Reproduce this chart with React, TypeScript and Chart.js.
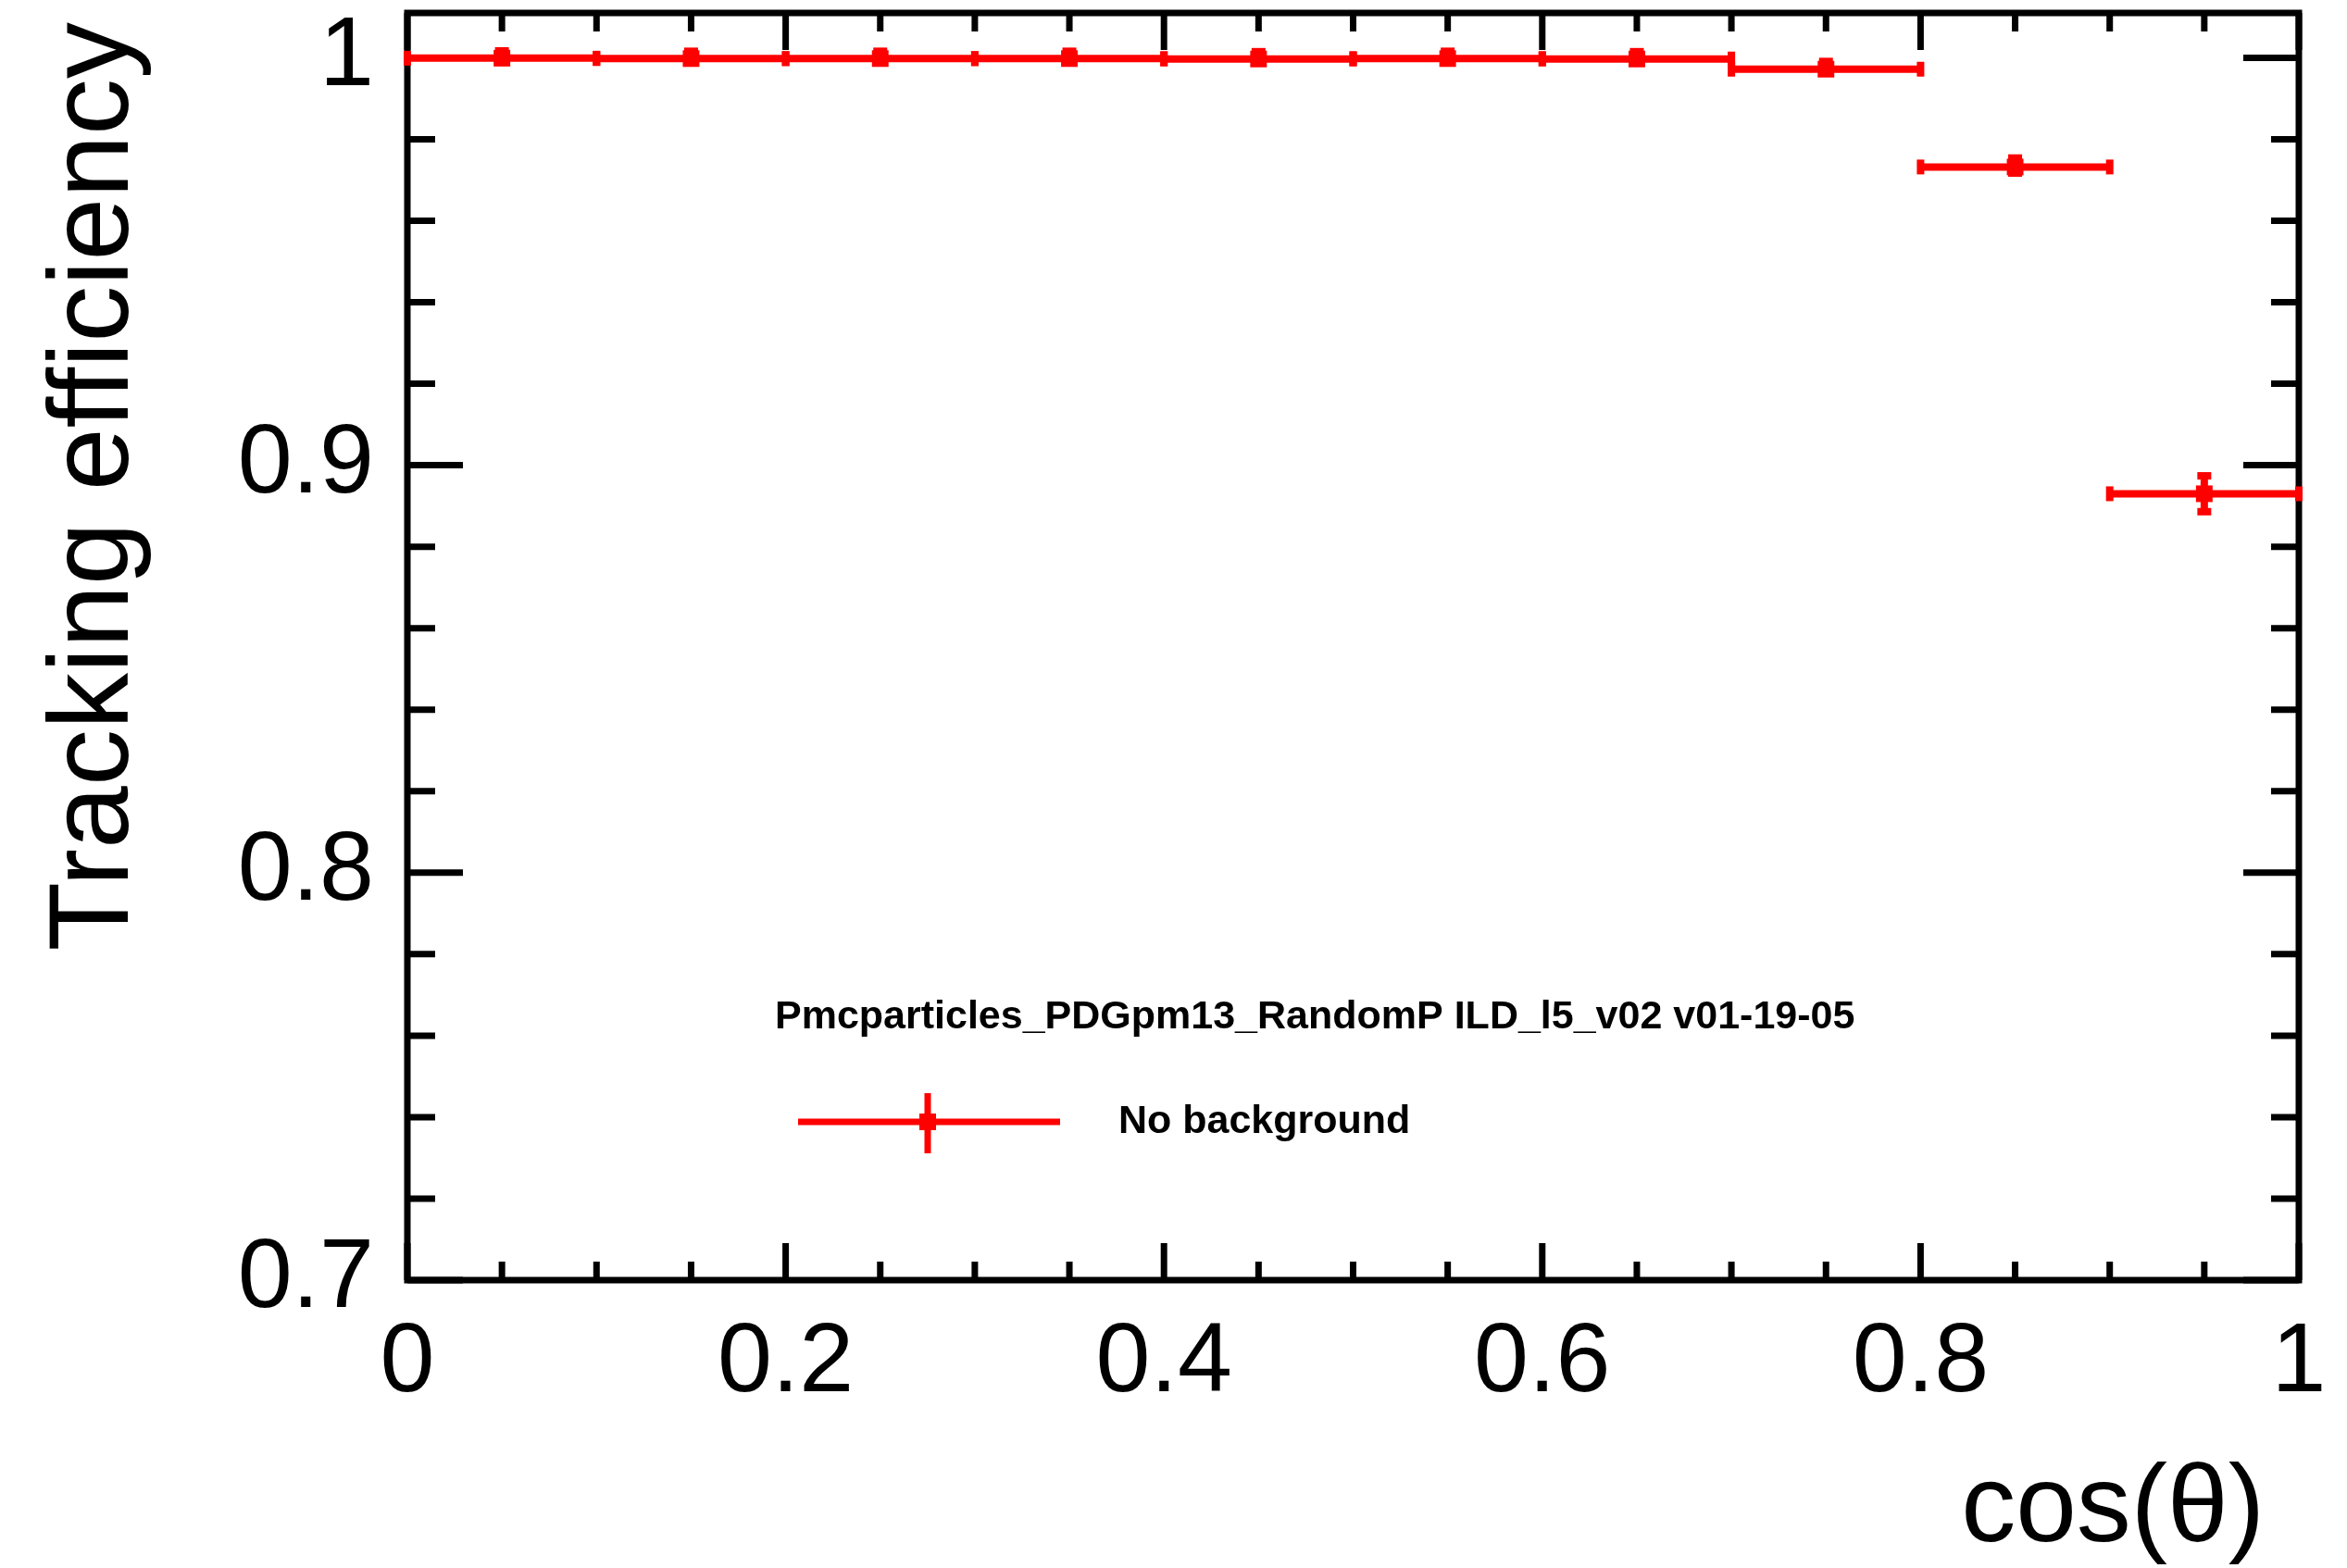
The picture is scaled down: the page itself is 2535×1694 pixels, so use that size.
import { useEffect, useRef } from "react";
import { Chart, registerables } from "chart.js";

Chart.register(...registerables);

// Canvas size
const W = 2535;
const H = 1694;

// cos(theta) bins
const BIN_LOW = [0.0, 0.1, 0.2, 0.3, 0.4, 0.5, 0.6, 0.7, 0.8, 0.9];
const BIN_HIGH = [0.1, 0.2, 0.3, 0.4, 0.5, 0.6, 0.7, 0.8, 0.9, 1.0];
const BIN_CENTER = [0.05, 0.15, 0.25, 0.35, 0.45, 0.55, 0.65, 0.75, 0.85, 0.95];

// Tracking efficiency per bin, with asymmetric errors
const EFFICIENCY = [0.9999, 0.9998, 0.9998, 0.9998, 0.9997, 0.9998, 0.9997, 0.9972, 0.9732, 0.893];
const ERR_LOW = [0.0008, 0.0008, 0.0008, 0.0008, 0.0008, 0.0008, 0.0008, 0.0009, 0.0015, 0.0044];
const ERR_HIGH = [0.0018, 0.0018, 0.0018, 0.0018, 0.0018, 0.0018, 0.0018, 0.0019, 0.0022, 0.0044];

// Axis ticks
const X_TICKS = [0, 0.2, 0.4, 0.6, 0.8, 1.0];
const X_TICK_LABELS = ["0", "0.2", "0.4", "0.6", "0.8", "1"];
const X_MINOR_TICKS = [0.05, 0.1, 0.15, 0.25, 0.3, 0.35, 0.45, 0.5, 0.55, 0.65, 0.7, 0.75, 0.85, 0.9, 0.95];
const Y_TICKS = [0.7, 0.8, 0.9, 1.0];
const Y_TICK_LABELS = ["0.7", "0.8", "0.9", "1"];
const Y_MINOR_TICKS = [0.72, 0.74, 0.76, 0.78, 0.82, 0.84, 0.86, 0.88, 0.92, 0.94, 0.96, 0.98];

const Y_MIN = 0.7;
const Y_MAX = 1.011;

// Texts
const X_TITLE = "cos(θ)";
const Y_TITLE = "Tracking efficiency";
const LEGEND_HEADER = "Pmcparticles_PDGpm13_RandomP ILD_l5_v02 v01-19-05";
const SERIES_NAME = "No background";

const RED = "#ff0000";
const FONT = "'Liberation Sans', Arial, Helvetica, sans-serif";

// Frame with inward ticks on all four sides
const framePlugin = {
  id: "frame",
  beforeDatasetsDraw(chart: any) {
    const { ctx, chartArea } = chart;
    const xs = chart.scales.x;
    const ys = chart.scales.y;
    const { left, right, top, bottom } = chartArea;
    ctx.save();
    ctx.strokeStyle = "#000";
    ctx.lineWidth = 7;
    ctx.lineCap = "butt";
    ctx.lineJoin = "miter";
    ctx.strokeRect(left, top, right - left, bottom - top);

    const xTick = (v: number, len: number) => {
      const px = xs.getPixelForValue(v);
      ctx.beginPath();
      ctx.moveTo(px, bottom);
      ctx.lineTo(px, bottom - len);
      ctx.moveTo(px, top);
      ctx.lineTo(px, top + len);
      ctx.stroke();
    };
    const yTick = (v: number, len: number) => {
      const py = ys.getPixelForValue(v);
      ctx.beginPath();
      ctx.moveTo(left, py);
      ctx.lineTo(left + len, py);
      ctx.moveTo(right, py);
      ctx.lineTo(right - len, py);
      ctx.stroke();
    };
    X_TICKS.forEach((v) => xTick(v, 40));
    X_MINOR_TICKS.forEach((v) => xTick(v, 20));
    Y_TICKS.forEach((v) => yTick(v, 60));
    Y_MINOR_TICKS.forEach((v) => yTick(v, 30));
    ctx.restore();
  },
};

// Horizontal (bin width) and vertical (efficiency error) bars with end caps
const errorBarPlugin = {
  id: "errorBars",
  beforeDatasetsDraw(chart: any) {
    const { ctx } = chart;
    const xs = chart.scales.x;
    const ys = chart.scales.y;
    ctx.save();
    ctx.strokeStyle = RED;
    ctx.fillStyle = RED;
    ctx.lineWidth = 8;
    ctx.lineCap = "butt";
    for (let i = 0; i < EFFICIENCY.length; i++) {
      const py = ys.getPixelForValue(EFFICIENCY[i]);
      const x0 = xs.getPixelForValue(BIN_LOW[i]);
      const x1 = xs.getPixelForValue(BIN_HIGH[i]);
      const xc = xs.getPixelForValue(BIN_CENTER[i]);
      ctx.beginPath();
      ctx.moveTo(x0, py);
      ctx.lineTo(x1, py);
      ctx.stroke();
      ctx.fillRect(x0 - 4, py - 8, 8, 16);
      ctx.fillRect(x1 - 4, py - 8, 8, 16);

      const yTop = ys.getPixelForValue(EFFICIENCY[i] + ERR_HIGH[i]);
      const yBot = ys.getPixelForValue(EFFICIENCY[i] - ERR_LOW[i]);
      ctx.beginPath();
      ctx.moveTo(xc, yTop);
      ctx.lineTo(xc, yBot);
      ctx.stroke();
      ctx.fillRect(xc - 7.5, yTop - 4, 15, 8);
      ctx.fillRect(xc - 7.5, yBot - 4, 15, 8);
    }
    ctx.restore();
  },
};

// Axis titles (aligned to the axis end) and the legend box
const annotationPlugin = {
  id: "annotations",
  afterDraw(chart: any) {
    const { ctx } = chart;
    ctx.save();
    ctx.fillStyle = "#000";

    // x title
    ctx.font = `118px ${FONT}`;
    ctx.textAlign = "right";
    ctx.textBaseline = "alphabetic";
    ctx.fillText(X_TITLE, 2446, 1665);

    // y title, rotated
    ctx.save();
    ctx.translate(138, 24);
    ctx.rotate(-Math.PI / 2);
    ctx.textAlign = "right";
    ctx.textBaseline = "alphabetic";
    ctx.font = `122px ${FONT}`;
    ctx.fillText(Y_TITLE, 0, 0);
    ctx.restore();

    // legend header
    ctx.font = `bold 43px ${FONT}`;
    ctx.textAlign = "left";
    ctx.textBaseline = "middle";
    ctx.fillText(LEGEND_HEADER, 837, 1099);

    // legend entry symbol
    ctx.strokeStyle = RED;
    ctx.fillStyle = RED;
    ctx.lineWidth = 7;
    ctx.beginPath();
    ctx.moveTo(862, 1212);
    ctx.lineTo(1145, 1212);
    ctx.moveTo(1002, 1181);
    ctx.lineTo(1002, 1246);
    ctx.stroke();
    ctx.fillRect(1002 - 9, 1212 - 9, 18, 18);

    ctx.fillStyle = "#000";
    ctx.font = `bold 43px ${FONT}`;
    ctx.fillText(SERIES_NAME, 1208, 1212);
    ctx.restore();
  },
};

export default function App() {
  const canvasRef = useRef<HTMLCanvasElement>(null);

  useEffect(() => {
    const canvas = canvasRef.current;
    if (!canvas) return;
    const chart = new Chart(canvas, {
      type: "scatter",
      data: {
        datasets: [
          {
            label: SERIES_NAME,
            data: BIN_CENTER.map((x, i) => ({ x, y: EFFICIENCY[i] })),
            pointStyle: "rect",
            pointRadius: 12.7,
            pointHoverRadius: 12.7,
            borderWidth: 0,
            backgroundColor: RED,
            borderColor: RED,
            showLine: false,
            clip: false,
          },
        ],
      },
      options: {
        responsive: false,
        devicePixelRatio: 1,
        animation: false,
        events: [],
        layout: { padding: { left: 0, right: 52, top: 14, bottom: 0 } },
        plugins: {
          legend: { display: false },
          tooltip: { enabled: false },
        },
        scales: {
          x: {
            type: "linear",
            min: 0,
            max: 1,
            grid: { display: false, drawTicks: false },
            border: { display: false },
            afterBuildTicks: (scale: any) => {
              scale.ticks = X_TICKS.map((value) => ({ value }));
            },
            afterFit: (scale: any) => {
              scale.height = 311;
              scale.paddingLeft = 0;
              scale.paddingRight = 0;
            },
            ticks: {
              autoSkip: false,
              maxRotation: 0,
              padding: 27,
              color: "#000",
              font: { family: FONT, size: 106 },
              callback: (_v: any, i: number) => X_TICK_LABELS[i],
            },
          },
          y: {
            type: "linear",
            min: Y_MIN,
            max: Y_MAX,
            grid: { display: false, drawTicks: false },
            border: { display: false },
            afterBuildTicks: (scale: any) => {
              scale.ticks = Y_TICKS.map((value) => ({ value }));
            },
            afterFit: (scale: any) => {
              scale.width = 440;
              scale.paddingTop = 0;
              scale.paddingBottom = 0;
            },
            ticks: {
              autoSkip: false,
              padding: 36,
              color: "#000",
              font: { family: FONT, size: 106 },
              callback: (_v: any, i: number) => Y_TICK_LABELS[i],
            },
          },
        },
      },
      plugins: [framePlugin, errorBarPlugin, annotationPlugin],
    } as any);
    return () => chart.destroy();
  }, []);

  return (
    <div style={{ position: "absolute", left: 0, top: 0, width: W, height: H, background: "#fff" }}>
      <canvas ref={canvasRef} width={W} height={H} style={{ display: "block", width: W, height: H }} />
    </div>
  );
}
